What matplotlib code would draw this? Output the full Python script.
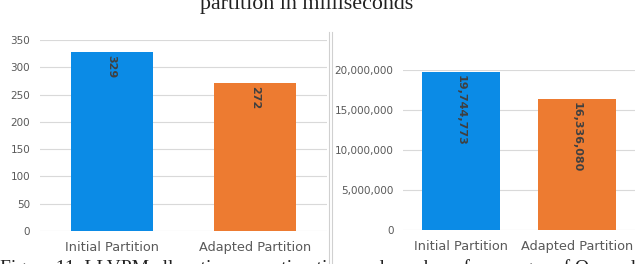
import matplotlib.pyplot as plt
from matplotlib.ticker import FuncFormatter

categories = ["Initial Partition", "Adapted Partition"]
time_ms = [329, 272]
counts = [19744773, 16336080]
bar_colors = ["#0b8be6", "#ed7b31"]

fig = plt.figure(figsize=(6.4, 2.64), dpi=100)

# left panel: execution time
ax1 = fig.add_axes([0.0625, 0.125, 0.448, 0.723])
ax1.bar(range(2), time_ms, width=0.57, color=bar_colors, zorder=3)
ax1.set_xlim(-0.5, 1.5)
ax1.set_ylim(0, 350)
ax1.set_yticks(range(0, 351, 50))
for i, v in enumerate(time_ms):
    ax1.text(i, v - 6, f"{v}", rotation=270, ha="center", va="top",
             fontsize=8, fontweight="bold", color="#404040", zorder=4)

# right panel: number of messages
ax2 = fig.add_axes([0.63, 0.129, 0.362, 0.606])
ax2.bar(range(2), counts, width=0.67, color=bar_colors, zorder=3)
ax2.set_xlim(-0.5, 1.5)
ax2.set_ylim(0, 20000000)
ax2.set_yticks(range(0, 20000001, 5000000))
ax2.yaxis.set_major_formatter(FuncFormatter(lambda v, p: f"{int(v):,}"))
for i, v in enumerate(counts):
    ax2.text(i, v - 400000, f"{v:,}", rotation=270, ha="center", va="top",
             fontsize=8, fontweight="bold", color="#404040", zorder=4)

for ax in (ax1, ax2):
    ax.set_xticks(range(2))
    ax.set_xticklabels(categories, fontsize=9.3, color="#595959")
    ax.tick_params(axis="y", labelsize=7.5, labelcolor="#595959", length=0, pad=7)
    ax.tick_params(axis="x", length=0, pad=7)
    ax.grid(axis="y", color="#d9d9d9", linewidth=0.8, zorder=0)
    for s in ax.spines.values():
        s.set_visible(False)

# panel separator
fig.add_artist(plt.Line2D([329 / 640, 329 / 640], [0.0, 0.88], color="#d0d0d0", lw=0.8))
fig.add_artist(plt.Line2D([332 / 640, 332 / 640], [0.0, 0.88], color="#d0d0d0", lw=0.8))

# cut-off caption text from the paper page
fig.text(0.479, 0.966, "partition in milliseconds", family="Liberation Serif",
         fontsize=15.8, ha="center", va="baseline", color="#222222")
fig.text(0.0, -0.035, "Figure 11. LLVPM allocation execution time and number of messages of Queued jobs",
         family="Liberation Serif", fontsize=14, ha="left", va="baseline", color="#222222")

fig.savefig("out.png", dpi=100)
